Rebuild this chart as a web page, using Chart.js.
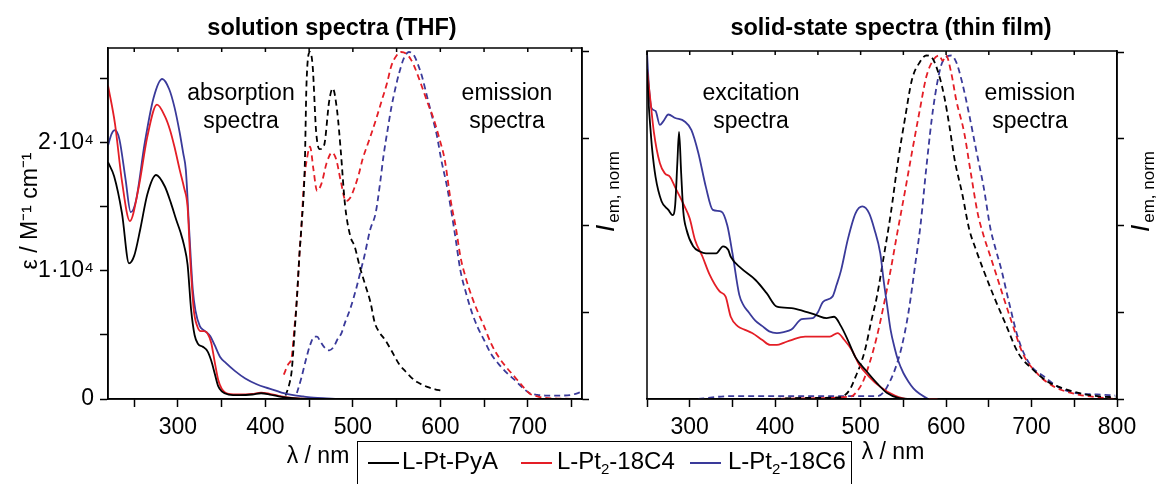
<!DOCTYPE html>
<html>
<head>
<meta charset="utf-8">
<script src="https://cdn.jsdelivr.net/npm/chart.js@4.4.1/dist/chart.umd.min.js"></script>
<style>
  body { margin: 0; background: #fff; overflow: hidden; }
  #wrap { position: relative; width: 1156px; height: 484px; background: #fff; }
  canvas { position: absolute; top: 0; }
  #legend {
    position: absolute; left: 357px; top: 441px; width: 495px; height: 60px;
    border: 1.5px solid #000; box-sizing: border-box;
    font: 24px "Liberation Sans", Arial, Helvetica, sans-serif; color: #000;
  }
  #legend .line { position: absolute; top: 20px; width: 31px; height: 2px; }
  #legend .txt { position: absolute; top: 7px; line-height: 24px; white-space: nowrap; }
  #legend sub { font-size: 15px; vertical-align: -5px; line-height: 0; }
</style>
</head>
<body>
<div id="wrap">
  <canvas id="solution" width="630" height="484" style="left:0"></canvas>
  <canvas id="film" width="526" height="484" style="left:630px"></canvas>
  <div id="legend">
    <div class="line" style="left:10px;background:#000"></div>
    <div class="txt" style="left:44px">L-Pt-PyA</div>
    <div class="line" style="left:163px;background:#e41e26"></div>
    <div class="txt" style="left:199px">L-Pt<sub>2</sub>-18C4</div>
    <div class="line" style="left:332px;background:#3a3a9a"></div>
    <div class="txt" style="left:370px">L-Pt<sub>2</sub>-18C6</div>
  </div>
</div>
<script>
const FONT = '"Liberation Sans", Arial, Helvetica, sans-serif';
const BLACK = '#000000', RED = '#e41e26', BLUE = '#3a3a9a';

// --- solution spectra (THF): absorption, eps in M^-1 cm^-1 ---
const absWlPyA  = [220,227,236,244,250,257,265,275,285,292,298,303,307,311,315,319,323,328,334,338,342,346,350,358,370,385,395,405,415,425,440,460,762];
const absEpsPyA = [18500,17400,14500,10600,11200,13300,16000,17500,16600,15300,14000,13000,12000,10500,7000,5000,4300,4100,3700,3000,2000,1000,600,350,300,350,450,350,200,100,30,0,0];
const absWl18C4  = [220,228,236,245,255,265,276,285,291,296,302,307,311,314,318,322,326,330,334,338,342,346,350,358,370,385,395,405,415,425,440,460,762];
const absEps18C4 = [24500,21500,17000,13900,16500,20500,23000,22100,21000,19700,17900,16500,15000,11000,7000,5700,5300,5300,5100,4400,2900,1500,800,400,350,400,500,400,250,120,20,0,0];
const absWl18C6  = [220,224,228,233,240,246,252,262,272,282,290,296,302,306,309,313,317,320,325,329,333,337,342,348,355,365,377,390,400,410,421,432,443,455,470,490,762];
const absEps18C6 = [19800,20700,21000,20300,17200,14600,15500,20000,23500,25000,24200,22800,20800,19200,17900,13000,8500,6900,5700,5400,5200,4900,4200,3300,2800,2200,1600,1150,900,700,450,300,200,100,50,0,0];

// solution emission, normalised
const emWlPyA = [423,427,430,433,436,439,441,445,447,451,454,458,462,467,473,477,482,486,491,497,502,508,514,520,525,531,537,544,553,560,566,574,585,594,601];
const emPyA   = [0.01,0.04,0.08,0.18,0.29,0.42,0.49,0.67,0.91,1.0,0.96,0.77,0.72,0.73,0.86,0.895,0.83,0.72,0.56,0.47,0.44,0.38,0.33,0.28,0.22,0.19,0.17,0.14,0.10,0.08,0.064,0.048,0.035,0.028,0.024];
const emWl18C4 = [421,426,430,433,436,439,441,444,448,451,455,459,464,470,476,481,486,492,497,502,507,511,520,527,533,539,544,550,555,561,566,570,579,586,592,599,605,612,618,623,629,636,643,650,658,667,676,685,693,702,710,720,740,762];
const em18C4   = [0.07,0.10,0.12,0.20,0.29,0.42,0.49,0.62,0.70,0.727,0.66,0.60,0.62,0.68,0.71,0.69,0.63,0.57,0.58,0.61,0.65,0.69,0.756,0.81,0.86,0.91,0.96,0.99,1.0,0.995,0.98,0.96,0.90,0.85,0.81,0.75,0.69,0.57,0.49,0.41,0.35,0.295,0.25,0.21,0.16,0.12,0.09,0.064,0.04,0.016,0.008,0.003,0.001,0];
const emWl18C6 = [436,441,447,451,456,459,463,467,473,478,482,487,491,497,504,509,513,520,526,531,535,540,544,549,553,558,564,570,575,579,585,590,596,601,607,612,617,623,630,636,643,650,658,667,676,685,693,702,711,720,737,750,761];
const em18C6   = [0.017,0.06,0.12,0.155,0.18,0.18,0.165,0.15,0.14,0.15,0.17,0.19,0.22,0.26,0.32,0.37,0.41,0.49,0.535,0.62,0.70,0.78,0.84,0.90,0.94,0.98,1.0,0.99,0.96,0.93,0.87,0.82,0.76,0.69,0.62,0.55,0.47,0.37,0.30,0.25,0.205,0.17,0.13,0.10,0.075,0.055,0.035,0.017,0.012,0.01,0.01,0.012,0.02];

// --- solid-state spectra (thin film): excitation, normalised ---
const exWlPyA = [250,252,254,256,260,267,275,280,283,285.5,287.5,290,292.5,296,304,312,319,331,339,345,348,360,377,390,402,419,435,448,460,469,477,485,494,506,519,531,544,560,580];
const exPyA   = [0.95,0.85,0.78,0.72,0.64,0.57,0.545,0.53,0.56,0.68,0.77,0.65,0.54,0.49,0.44,0.425,0.42,0.42,0.44,0.43,0.41,0.377,0.343,0.305,0.266,0.262,0.252,0.242,0.233,0.237,0.21,0.17,0.12,0.083,0.046,0.017,0.003,0,0];
const exWl18C4 = [250,254,258,265,271,277,283,294,300,306,315,323,335,342,348,356,364,373,385,394,402,410,419,435,452,464,473,481,490,498,510,523,540,556,590];
const ex18C4   = [0.95,0.86,0.77,0.68,0.65,0.64,0.61,0.555,0.52,0.46,0.41,0.36,0.31,0.295,0.237,0.21,0.20,0.19,0.17,0.156,0.156,0.162,0.17,0.18,0.18,0.18,0.19,0.17,0.14,0.10,0.064,0.035,0.01,0,0];
const exWl18C6 = [250,252,255,260,265,269,275,283,294,302,310,319,327,337,344,350,358,363,369,377,385,393,402,410,419,431,444,450,456,467,472,477,485,494,502,510,516,523,527,531,535,540,544,550,556,562,569,579];
const ex18C6   = [1.0,0.91,0.84,0.83,0.79,0.80,0.82,0.81,0.80,0.775,0.71,0.61,0.545,0.54,0.50,0.42,0.30,0.27,0.25,0.225,0.21,0.195,0.19,0.193,0.20,0.23,0.233,0.25,0.28,0.295,0.33,0.37,0.46,0.535,0.555,0.535,0.49,0.42,0.34,0.27,0.20,0.145,0.11,0.075,0.05,0.03,0.015,0];

// thin film emission, normalised
const flWlPyA = [400,430,470,481,488,494,500,506,512,519,527,535,544,552,560,569,577,583,591,598,604,610,619,627,635,644,656,669,685,702,719,735,756,777,798];
const flPyA   = [0,0.003,0.004,0.01,0.03,0.064,0.10,0.15,0.22,0.295,0.41,0.53,0.69,0.81,0.92,0.97,0.99,0.985,0.94,0.87,0.785,0.69,0.59,0.49,0.43,0.37,0.295,0.22,0.13,0.084,0.05,0.032,0.017,0.008,0.005];
const flWl18C4 = [395,440,490,494,502,510,519,527,535,543,552,560,569,577,585,592,596,600,606,612,621,629,637,644,652,665,677,690,706,723,735,756,777,798];
const fl18C4   = [0,0.002,0.008,0.017,0.046,0.10,0.18,0.27,0.37,0.48,0.60,0.71,0.83,0.93,0.977,0.99,0.975,0.99,0.94,0.86,0.77,0.65,0.535,0.47,0.41,0.31,0.22,0.13,0.075,0.04,0.026,0.012,0.005,0];
const flWl18C6 = [310,345,520,527,531,540,548,556,564,570,577,585,594,600,606,612,619,627,635,644,652,656,665,673,685,698,715,731,752,777,798];
const fl18C6   = [0,0.008,0.008,0.02,0.035,0.084,0.15,0.25,0.39,0.50,0.67,0.84,0.96,0.985,0.99,0.97,0.91,0.82,0.72,0.61,0.49,0.45,0.37,0.285,0.17,0.10,0.064,0.035,0.017,0.013,0.01];

// --- tick values ---
const solXTicks = [250,300,350,400,450,500,550,600,650,700,750];
const filmXTicks = [250,300,350,400,450,500,550,600,650,700,750,800];
const epsTicks = [0,5000,10000,15000,20000,25000];
const iemTicks = [0,0.25,0.5,0.75,1];

Chart.defaults.font.family = FONT;
Chart.defaults.color = '#000';

function series(label, xs, ys, color, dashed, axis) {
    return {
        label: label,
        data: xs.map((x, i) => ({ x: x, y: ys[i] })),
        borderColor: color,
        backgroundColor: color,
        borderWidth: 1.8,
        borderDash: dashed ? [6, 4] : [],
        yAxisID: axis,
        pointRadius: 0,
        fill: false,
        cubicInterpolationMode: 'monotone'
    };
}

// rotated "I em, norm" label, reading upwards from (x, y)
function drawIem(ctx, x, y) {
    ctx.save();
    ctx.translate(x, y);
    ctx.rotate(-Math.PI / 2);
    ctx.textAlign = 'left';
    ctx.textBaseline = 'alphabetic';
    ctx.font = 'italic 26px ' + FONT;
    ctx.fillText('I', 0, 0);
    const w = ctx.measureText('I').width;
    ctx.font = '17px ' + FONT;
    ctx.fillText('em, norm', w + 2, 5);
    ctx.restore();
}

function decoPlugin(cfg) {
    return {
        id: 'deco',
        afterDraw(chart) {
            const ctx = chart.ctx;
            const a = chart.chartArea;
            const xs = chart.scales.x;
            ctx.save();
            ctx.strokeStyle = '#000';
            ctx.lineWidth = 1.5;
            ctx.strokeRect(a.left, a.top, a.right - a.left, a.bottom - a.top);
            // small inward ticks on the top edge
            ctx.beginPath();
            xs.ticks.forEach(t => {
                const px = xs.getPixelForValue(t.value);
                ctx.moveTo(px, a.top);
                ctx.lineTo(px, a.top + 4);
            });
            ctx.stroke();

            ctx.fillStyle = '#000';
            ctx.textAlign = 'center';
            ctx.textBaseline = 'alphabetic';
            ctx.font = 'bold 23.5px ' + FONT;
            ctx.fillText(cfg.title, cfg.titleX, 35);
            ctx.font = '23px ' + FONT;
            cfg.notes.forEach(n => {
                ctx.fillText(n.lines[0], n.x, 100);
                ctx.fillText(n.lines[1], n.x, 128);
            });
            ctx.fillText('λ / nm', cfg.xTitle[0], cfg.xTitle[1]);
            if (cfg.yTitle) {
                ctx.save();
                ctx.translate(cfg.yTitle[0], cfg.yTitle[1]);
                ctx.rotate(-Math.PI / 2);
                ctx.textBaseline = 'middle';
                ctx.fillText('ε / M⁻¹ cm⁻¹', 0, 0);
                ctx.restore();
            }
            drawIem(ctx, cfg.iem[0], cfg.iem[1]);
            ctx.restore();
        }
    };
}

const tickFont = { size: 23 };
const axisLine = { display: true, color: '#000', width: 1.5 };

// --- left panel: solution ---
new Chart(document.getElementById('solution'), {
    type: 'line',
    data: {
        datasets: [
            series('L-Pt-PyA', absWlPyA, absEpsPyA, BLACK, false, 'y'),
            series('L-Pt2-18C4', absWl18C4, absEps18C4, RED, false, 'y'),
            series('L-Pt2-18C6', absWl18C6, absEps18C6, BLUE, false, 'y'),
            series('L-Pt-PyA em', emWlPyA, emPyA, BLACK, true, 'yEm'),
            series('L-Pt2-18C4 em', emWl18C4, em18C4, RED, true, 'yEm'),
            series('L-Pt2-18C6 em', emWl18C6, em18C6, BLUE, true, 'yEm')
        ]
    },
    options: {
        responsive: false,
        animation: false,
        devicePixelRatio: 1,
        layout: { padding: { left: 0, right: 0, top: 48, bottom: 0 } },
        plugins: { legend: { display: false }, tooltip: { enabled: false } },
        scales: {
            x: {
                type: 'linear', min: 220, max: 762,
                border: axisLine,
                grid: { drawOnChartArea: false, tickLength: 8, tickColor: '#000', tickWidth: 1.5 },
                ticks: { font: tickFont, padding: 7, maxRotation: 0, autoSkip: false,
                         callback: v => (v % 100 === 0 ? String(v) : '') },
                afterBuildTicks: s => { s.ticks = solXTicks.map(v => ({ value: v })); },
                afterFit: s => { s.height = 85; }
            },
            y: {
                type: 'linear', position: 'left', min: 0, max: 27420,
                border: axisLine,
                grid: { drawOnChartArea: false, tickLength: 8, tickColor: '#000', tickWidth: 1.5 },
                ticks: { font: tickFont, padding: 6,
                         callback: v => (v === 0 ? '0' : (v % 10000 === 0 ? (v / 10000) + '·10⁴' : '')) },
                afterBuildTicks: s => { s.ticks = epsTicks.map(v => ({ value: v })); },
                afterFit: s => { s.width = 108; }
            },
            yEm: {
                type: 'linear', position: 'right', min: 0, max: 1.0115,
                border: axisLine,
                grid: { drawOnChartArea: false, tickLength: 7, tickColor: '#000', tickWidth: 1.5 },
                ticks: { display: false },
                afterBuildTicks: s => { s.ticks = iemTicks.map(v => ({ value: v })); },
                afterFit: s => { s.width = 48; }
            }
        }
    },
    plugins: [decoPlugin({
        title: 'solution spectra (THF)', titleX: 332,
        notes: [{ x: 241, lines: ['absorption', 'spectra'] }, { x: 507, lines: ['emission', 'spectra'] }],
        xTitle: [318, 463],
        yTitle: [31, 211],
        iem: [614, 232]
    })]
});

// --- right panel: thin film ---
new Chart(document.getElementById('film'), {
    type: 'line',
    data: {
        datasets: [
            series('L-Pt-PyA ex', exWlPyA, exPyA, BLACK, false, 'y'),
            series('L-Pt2-18C4 ex', exWl18C4, ex18C4, RED, false, 'y'),
            series('L-Pt2-18C6 ex', exWl18C6, ex18C6, BLUE, false, 'y'),
            series('L-Pt-PyA em', flWlPyA, flPyA, BLACK, true, 'y'),
            series('L-Pt2-18C4 em', flWl18C4, fl18C4, RED, true, 'y'),
            series('L-Pt2-18C6 em', flWl18C6, fl18C6, BLUE, true, 'y')
        ]
    },
    options: {
        responsive: false,
        animation: false,
        devicePixelRatio: 1,
        layout: { padding: { left: 17, right: 0, top: 51, bottom: 0 } },
        plugins: { legend: { display: false }, tooltip: { enabled: false } },
        scales: {
            x: {
                type: 'linear', min: 250, max: 800,
                border: axisLine,
                grid: { drawOnChartArea: false, tickLength: 8, tickColor: '#000', tickWidth: 1.5 },
                ticks: { font: tickFont, padding: 7, maxRotation: 0, autoSkip: false,
                         callback: v => (v % 100 === 0 ? String(v) : '') },
                afterBuildTicks: s => { s.ticks = filmXTicks.map(v => ({ value: v })); },
                afterFit: s => { s.height = 85; }
            },
            y: {
                type: 'linear', position: 'right', min: 0, max: 1.003,
                border: axisLine,
                grid: { drawOnChartArea: false, tickLength: 7, tickColor: '#000', tickWidth: 1.5 },
                ticks: { display: false },
                afterBuildTicks: s => { s.ticks = iemTicks.map(v => ({ value: v })); },
                afterFit: s => { s.width = 39; }
            }
        }
    },
    plugins: [decoPlugin({
        title: 'solid-state spectra (thin film)', titleX: 261,
        notes: [{ x: 121, lines: ['excitation', 'spectra'] }, { x: 400, lines: ['emission', 'spectra'] }],
        xTitle: [263, 459],
        yTitle: null,
        iem: [519, 232]
    })]
});
</script>
</body>
</html>
